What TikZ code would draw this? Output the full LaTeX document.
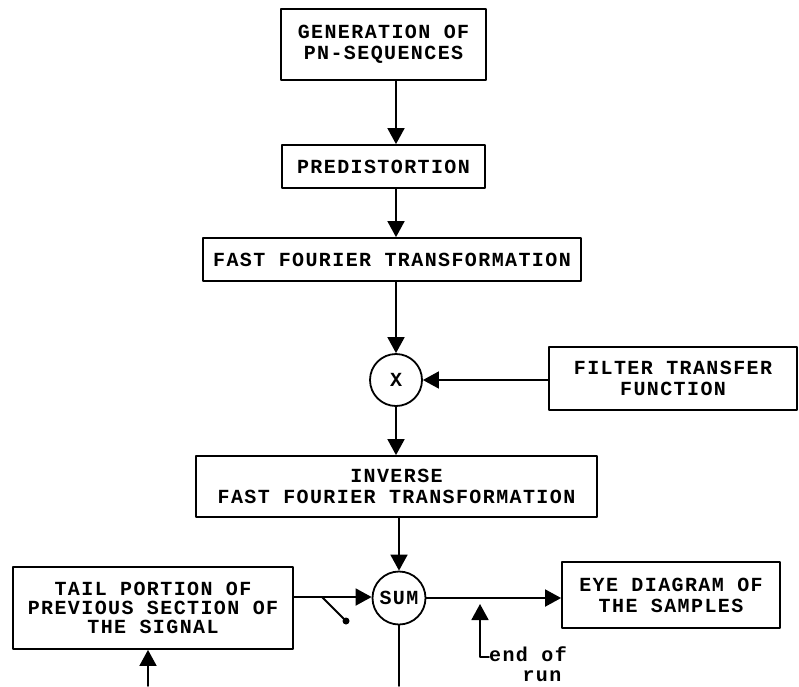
\documentclass[tikz,border=0pt]{standalone}
\usepackage{fontspec}
\newfontfamily\typefont[LetterSpace=7]{Liberation Mono}
\usetikzlibrary{arrows.meta}
\tikzset{
  every picture/.style={line join=round, line cap=round, >={Triangle[length=16pt,width=17pt]}},
  box/.style={draw, line width=1.8pt, inner sep=0pt, align=center, font=\typefont\bfseries\fontsize{20pt}{21pt}\selectfont},
  junction/.style={draw, circle, line width=1.8pt, inner sep=0pt, minimum size=52pt, font=\typefont\bfseries\fontsize{20pt}{21pt}\selectfont},
  flow/.style={line width=1.8pt, ->},
  wire/.style={line width=1.8pt},
  remark/.style={inner sep=0pt, font=\typefont\bfseries\fontsize{20pt}{21pt}\selectfont},
}

\begin{document}
\begin{tikzpicture}[x=1pt,y=-1pt]
\useasboundingbox (0,0) rectangle (799,686);
\node[box, minimum width=205pt, minimum height=71pt] (gen) at (383.5,44.5) {GENERATION OF\\ PN-SEQUENCES};
\node[box, minimum width=203pt, minimum height=43pt] (pred) at (383.5,166.5) {PREDISTORTION};
\node[box, minimum width=378pt, minimum height=43pt] (fft) at (392,259.5) {FAST FOURIER TRANSFORMATION};
\node[junction] (mul) at (396,380) {X};
\node[box, minimum width=248pt, minimum height=63pt] (filt) at (673,378.5) {FILTER TRANSFER\\FUNCTION};
\node[box, minimum width=401pt, minimum height=61pt] (ifft) at (396.5,486.5) {INVERSE\\FAST FOURIER TRANSFORMATION};
\node[junction, minimum size=53pt] (sum) at (399,598) {SUM};
\node[box, minimum width=280pt, minimum height=82pt, font=\typefont\bfseries\fontsize{20pt}{19pt}\selectfont] (tail) at (153,608) {TAIL PORTION OF\\PREVIOUS SECTION OF\\THE SIGNAL};
\node[box, minimum width=218pt, minimum height=66pt] (eye) at (671,595) {EYE DIAGRAM OF\\THE SAMPLES};
\coordinate (pivot) at (322,597);
\coordinate (contact) at (346,621);
\coordinate (eor) at (480,657);
\coordinate (tap) at (480,604);
\coordinate (loopr) at (399,686);
\coordinate (loopl) at (148,686);
\node[remark, anchor=base west] (eorA) at (489,661) {end of};
\node[remark, anchor=base] (eorB) at (542,681) {run};
\draw[flow] (gen.south -| mul) -- (pred.north -| mul);
\draw[flow] (pred.south -| mul) -- (fft.north -| mul);
\draw[flow] (fft.south -| mul) -- (mul);
\draw[flow] (filt.west |- mul) -- (mul);
\draw[flow] (mul) -- (ifft.north -| mul);
\draw[flow] (ifft.south -| sum) -- (sum);
\draw[flow] (tail.east |- pivot) -- (sum.west |- pivot);
\draw[wire] (pivot) -- (contact);
\fill (contact) circle (3.5pt);
\draw[flow] (sum.east) -- (eye.west |- sum.east);
\draw[flow] (eorA.west |- eor) -- (eor) -- (tap);
\draw[wire] (sum) -- (loopr);
\draw[flow] (loopl) -- (tail.south -| loopl);
\end{tikzpicture}
\end{document}
